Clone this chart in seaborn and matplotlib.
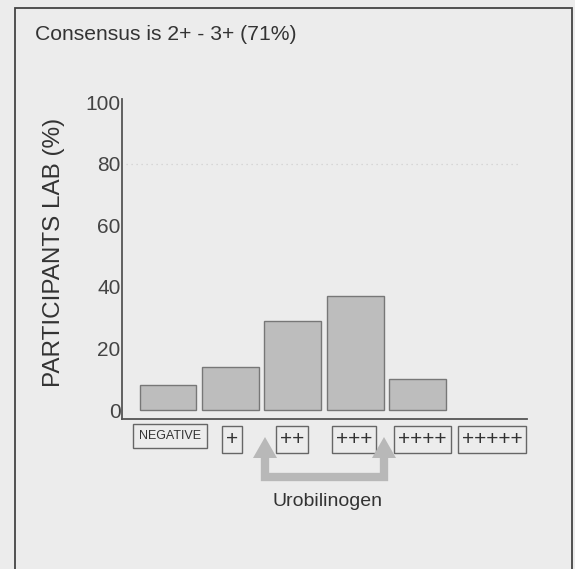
import matplotlib
matplotlib.use("Agg")
import matplotlib.pyplot as plt
import matplotlib.transforms as mtransforms
import seaborn as sns
from matplotlib.patches import Rectangle, Polygon
from matplotlib.lines import Line2D
from matplotlib import font_manager

# ---- data ----
categories = ["NEGATIVE", "+", "++", "+++", "++++", "+++++"]
values = [8, 14, 29, 37, 10, 0]
yticks = [0, 20, 40, 60, 80, 100]
title_text = "Consensus is 2+ - 3+ (71%)"
ylabel_text = "PARTICIPANTS LAB (%)"
xlabel_text = "Urobilinogen"

sns.set_theme(style="white")
plt.rcParams["font.family"] = ["Liberation Sans", "DejaVu Sans"]

names = {f.name for f in font_manager.fontManager.ttflist}
narrow = "Liberation Sans Narrow" if "Liberation Sans Narrow" in names else "Liberation Sans"

BG = "#ececec"
W, H = 575, 569
fig = plt.figure(figsize=(W / 100, H / 100), dpi=100, facecolor=BG)

def fx(px):
    return px / W

def fy(py):
    return 1 - py / H

ax = fig.add_axes([fx(122), fy(419), fx(527) - fx(122), fy(99) - fy(419)])
ax.set_facecolor(BG)

sns.barplot(x=categories, y=values, order=categories, color="#bdbdbd",
            saturation=1, width=0.91, edgecolor="#777777", linewidth=1.0, ax=ax)
for p in ax.patches:
    if p.get_height() == 0:
        p.set_edgecolor("none")

ax.set_xlim(-0.737, 5.753)
ax.set_ylim(-2.9, 101)
ax.set_yticks(yticks)
ax.set_yticklabels([str(v) for v in yticks])
ax.set_xlabel("")
ax.set_ylabel("")

# faint dotted line at 80
ax.axhline(80, xmin=0.01, xmax=0.98, color="#cfcfcf", lw=0.9, ls=(0, (1, 3)))

for s in ["top", "right"]:
    ax.spines[s].set_visible(False)
for s in ["left", "bottom"]:
    ax.spines[s].set_color("#555555")
    ax.spines[s].set_linewidth(1.3)

ax.tick_params(axis="y", direction="in", length=5, width=1.1, color="#555555",
               labelsize=15, labelcolor="#444444", pad=1)
ax.tick_params(axis="x", direction="in", length=7, width=1.1, color="#555555", pad=8)

ax.set_xticks(range(len(categories)))
ax.set_xticklabels(categories)
shifts_px = [2, 2, -1, -1, 5, 12]
for lab, c, sh in zip(ax.get_xticklabels(), categories, shifts_px):
    if c == "NEGATIVE":
        lab.set_fontsize(9 if narrow == "Liberation Sans" else 10.5)
        lab.set_family(narrow)
        lab.set_bbox(dict(boxstyle="square,pad=0.5", fc="none", ec="#666666", lw=1.0))
    else:
        lab.set_fontsize(15)
        lab.set_bbox(dict(boxstyle="square,pad=0.19", fc="none", ec="#666666", lw=1.0))
    lab.set_color("#333333")
    lab.set_transform(lab.get_transform() +
                      mtransforms.ScaledTranslation(sh / 100, 0, fig.dpi_scale_trans))

# title and axis label
fig.text(fx(35), fy(40), title_text, fontsize=15.2, color="#333333",
         ha="left", va="baseline")
fig.text(fx(54), fy(252), ylabel_text, fontsize=17.5, color="#333333",
         rotation=90, ha="center", va="center")
fig.text(fx(327), fy(501), xlabel_text, fontsize=14, color="#333333",
         ha="center", va="center")

# arrow bracket
arrow_col = "#b8b8b8"
xl, xr = 265, 384
ybar = 477
bracket = Line2D([fx(xl), fx(xl), fx(xr), fx(xr)],
                 [fy(456), fy(ybar), fy(ybar), fy(456)],
                 transform=fig.transFigure, color=arrow_col, lw=6,
                 solid_joinstyle="miter", solid_capstyle="butt")
fig.add_artist(bracket)
for xa in (xl, xr):
    head = Polygon([[fx(xa), fy(437)], [fx(xa - 12), fy(458)], [fx(xa + 12), fy(458)]],
                   closed=True, transform=fig.transFigure, fc=arrow_col, ec="none")
    fig.add_artist(head)

# outer frame
frame = Rectangle((fx(15), fy(600)), fx(572) - fx(15), fy(8) - fy(600),
                  transform=fig.transFigure, fill=False, ec="#444444", lw=1.3,
                  clip_on=False)
fig.add_artist(frame)

fig.savefig("out.png", dpi=100, facecolor=BG)
